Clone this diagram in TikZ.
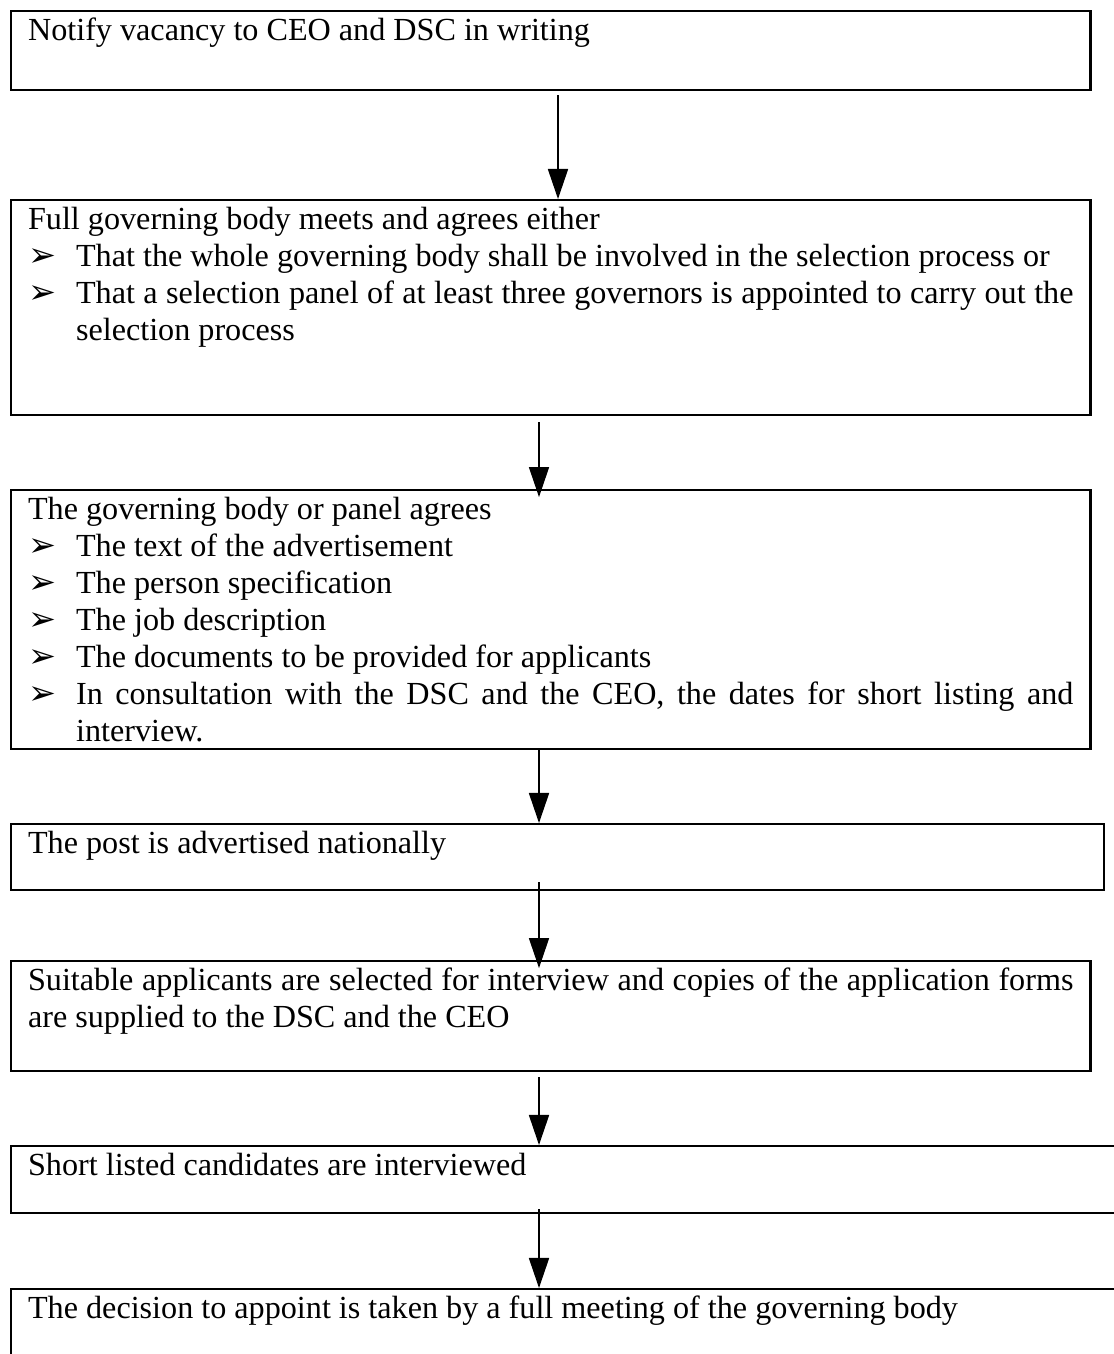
\documentclass[tikz,border=0pt]{standalone}
\usepackage{fontspec}
\setmainfont{Liberation Serif}
\newfontfamily\dingfont{DejaVu Sans}
\usetikzlibrary{arrows.meta}
\definecolor{rahmen}{HTML}{000000}
\newcommand\bul{{\dingfont\fontsize{12.5pt}{12pt}\selectfont\char"27A2}}
\newcommand\bitem[1]{\par\hangindent=17.9pt\hangafter=1\noindent\makebox[17.9pt][l]{\bul}#1\par}
\tikzset{
  stepbox/.style={draw=rahmen,line width=0.9pt,anchor=north west,inner xsep=6.3pt,inner ysep=0pt,
    text width=390pt,text height=10.8pt,align=justify,font=\fontsize{12pt}{13.8pt}\selectfont},
  flow/.style={-{Triangle[length=11.2pt,width=7.5pt]},rahmen,line width=0.5pt},
}

\begin{document}
\begin{tikzpicture}[x=0.3731pt,y=-0.3731pt]
  \useasboundingbox (0,0) rectangle (1114,1354);
  \clip (0,0) rectangle (1114,1354);
  \node[stepbox,text depth=18.7pt] (b1) at (10,10) {Notify vacancy to CEO and DSC in writing};
  \node[stepbox,text depth=69.4pt] (b2) at (10,199) {Full governing body meets and agrees either
    \bitem{That the whole governing body shall be involved in the selection process or}
    \bitem{That a selection panel of at least three governors is appointed to carry out the\linebreak selection process}};
  \node[stepbox,text depth=85.8pt] (b3) at (10,489) {The governing body or panel agrees
    \bitem{The text of the advertisement}
    \bitem{The person specification}
    \bitem{The job description}
    \bitem{The documents to be provided for applicants}
    \bitem{In consultation with the DSC and the CEO, the dates for short listing and\linebreak interview.}};
  \node[stepbox,text width=395.2pt,text depth=13.8pt] (b4) at (10,823) {The post is advertised nationally};
  \node[stepbox,text depth=30.2pt] (b5) at (10,960) {Suitable applicants are selected for interview and copies of the application forms\linebreak are supplied to the DSC and the CEO};
  \node[stepbox,text width=420pt,text depth=14.2pt] (b6) at (10,1145) {Short listed candidates are interviewed};
  \node[stepbox,text width=420pt,text depth=40pt] (b7) at (10,1288) {The decision to appoint is taken by a full meeting of the governing body};
  % arrows
  \coordinate (s1) at (558,95);
  \coordinate (s2) at (539,422);
  \coordinate (s3) at (539,748);
  \coordinate (s4) at (539,882);
  \coordinate (s5) at (539,1077);
  \coordinate (s6) at (539,1209);
  \draw[flow] (s1) -- (s1 |- b2.north);
  \draw[flow] (s2) -- ([yshift=-3pt]s2 |- b3.north);
  \draw[flow] (s3) -- (s3 |- b4.north);
  \draw[flow] (s4) -- ([yshift=-3pt]s4 |- b5.north);
  \draw[flow] (s5) -- (s5 |- b6.north);
  \draw[flow] (s6) -- (s6 |- b7.north);
\end{tikzpicture}
\end{document}
